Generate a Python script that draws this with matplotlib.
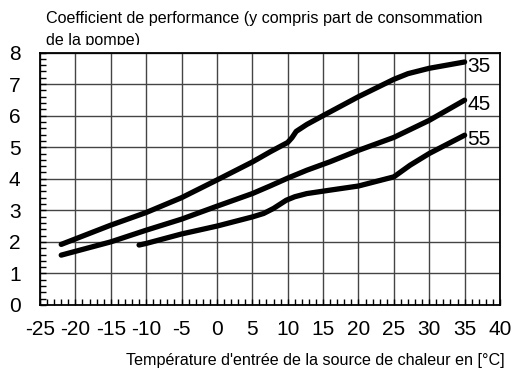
import matplotlib
matplotlib.use("Agg")
import matplotlib.pyplot as plt
from matplotlib.ticker import MultipleLocator
from matplotlib.transforms import Bbox, TransformedBbox

plt.rcParams['font.family'] = ['Liberation Sans', 'DejaVu Sans']

# Coefficient of performance vs. heat source inlet temperature, per flow temperature
series_names = ["35", "45", "55"]

temp_35 = [-22, -15, -10, -5, 0, 5, 7.5, 10, 10.6, 11.2, 12.7, 15, 20, 25, 27, 30, 35]
cop_35 = [1.92, 2.53, 2.93, 3.40, 3.96, 4.53, 4.85, 5.15, 5.30, 5.50, 5.72, 6.00, 6.60, 7.15, 7.33, 7.50, 7.70]

temp_45 = [-22, -15, -10, -5, 0, 5, 7.5, 10, 12.7, 16, 20, 25, 30, 35]
cop_45 = [1.58, 2.00, 2.37, 2.72, 3.13, 3.53, 3.77, 4.02, 4.27, 4.54, 4.90, 5.31, 5.85, 6.49]

temp_55 = [-11, -10, -5, 0, 5, 6.6, 8, 9.8, 11, 12.7, 16, 20, 25, 27.3, 30, 35]
cop_55 = [1.90, 1.95, 2.25, 2.50, 2.79, 2.90, 3.06, 3.32, 3.43, 3.53, 3.64, 3.77, 4.06, 4.43, 4.80, 5.38]

x_ticks = [-25, -20, -15, -10, -5, 0, 5, 10, 15, 20, 25, 30, 35, 40]
y_ticks = [0, 1, 2, 3, 4, 5, 6, 7, 8]

title_lines = ["Coefficient de performance (y compris part de consommation", "de la pompe)"]
xlabel_text = "Température d'entrée de la source de chaleur en [°C]"

W, H = 513, 377
fig = plt.figure(figsize=(W / 100, H / 100), dpi=100)
ax = fig.add_axes([40 / W, 1 - 305 / H, 460 / W, (305 - 52.5) / H])

ax.set_xlim(-25, 40)
ax.set_ylim(0, 8)
ax.set_xticks(x_ticks)
ax.set_yticks(y_ticks)
ax.set_xticklabels([str(t) for t in x_ticks])
ax.set_yticklabels([str(t) for t in y_ticks])
ax.xaxis.set_minor_locator(MultipleLocator(1))
ax.yaxis.set_minor_locator(MultipleLocator(0.2))
ax.tick_params(which='both', direction='in', top=False, right=False, width=1, color='black')
ax.tick_params(which='major', length=4, labelsize=15)
ax.tick_params(which='minor', length=4)
ax.tick_params(axis='x', which='major', pad=11)
ax.tick_params(axis='y', which='major', pad=14)

ax.grid(True, which='major', color='#444444', linewidth=1.0)
ax.set_axisbelow(True)
for s in ax.spines.values():
    s.set_linewidth(1.3)
    s.set_color('black')

for name, xs, ys in [("35", temp_35, cop_35), ("45", temp_45, cop_45), ("55", temp_55, cop_55)]:
    ax.plot(xs, ys, color='black', linewidth=3.8, solid_capstyle='round',
            solid_joinstyle='round', zorder=3)
    ax.annotate(name, xy=(xs[-1], ys[-1]), xytext=(2, -3), textcoords='offset points',
                ha='left', va='center', fontsize=15, zorder=4, annotation_clip=False)

# Heading above the plot; the second line is cut off just above the frame
clip = TransformedBbox(Bbox([[0, 1 - 44.5 / H], [1, 1]]), fig.transFigure)
for i, line in enumerate(title_lines):
    t = fig.text(46 / W, 1 - (23 + 22 * i) / H, line, ha='left', va='baseline', fontsize=11.6)
    t.set_clip_box(clip)
    t.set_clip_on(True)

fig.text(315 / W, 1 - 360 / H, xlabel_text, ha='center', va='center', fontsize=11.6)

fig.savefig("out.png", dpi=100)
